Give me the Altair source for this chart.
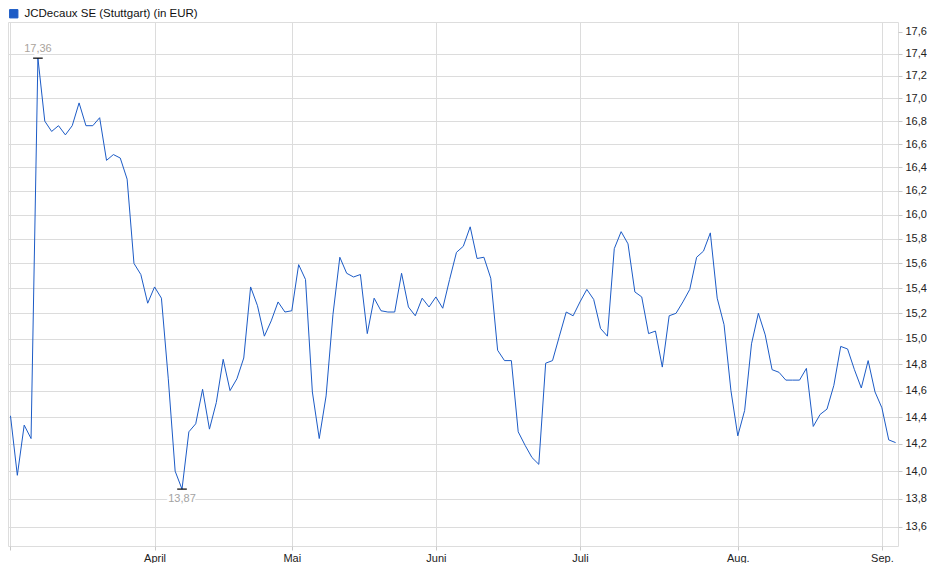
import altair as alt
import pandas as pd

# ---- data -------------------------------------------------------------
holidays = ["2025-04-18", "2025-04-21", "2025-05-01"]
dates = [d for d in pd.bdate_range("2025-03-03", "2025-09-03") if d.strftime("%Y-%m-%d") not in holidays]

closes = [
    14.41, 13.97, 14.34, 14.24, 17.36, 16.80, 16.71, 16.76, 16.68, 16.76,
    16.96, 16.76, 16.76, 16.83, 16.46, 16.51, 16.48, 16.30, 15.60, 15.51,
    15.28, 15.41, 15.32, 14.69, 14.00, 13.87, 14.29, 14.35, 14.61, 14.31,
    14.51, 14.84, 14.60, 14.69, 14.85, 15.41, 15.26, 15.02, 15.14, 15.29,
    15.21, 15.22, 15.59, 15.47, 14.59, 14.24, 14.56, 15.19, 15.65, 15.52,
    15.49, 15.51, 15.04, 15.32, 15.22, 15.21, 15.21, 15.52, 15.25, 15.18,
    15.32, 15.25, 15.33, 15.24, 15.47, 15.69, 15.74, 15.90, 15.64, 15.65,
    15.48, 14.91, 14.83, 14.83, 14.29, 14.19, 14.10, 14.05, 14.81, 14.83,
    15.02, 15.21, 15.18, 15.29, 15.39, 15.31, 15.08, 15.02, 15.72, 15.86,
    15.76, 15.37, 15.33, 15.04, 15.06, 14.78, 15.18, 15.20, 15.29, 15.39,
    15.65, 15.70, 15.85, 15.32, 15.11, 14.60, 14.26, 14.45, 14.96, 15.20,
    15.03, 14.76, 14.74, 14.68, 14.68, 14.68, 14.77, 14.33, 14.42, 14.46,
    14.64, 14.94, 14.92, 14.76, 14.62, 14.83, 14.59, 14.47, 14.23, 14.21,
]

series_name = "JCDecaux SE (Stuttgart) (in EUR)"
month_names = {3: "", 4: "April", 5: "Mai", 6: "Juni", 7: "Juli", 8: "Aug.", 9: "Sep."}
y_ticks = [round(13.6 + 0.2 * k, 1) for k in range(21)]

line_color = "#1c5bc6"
grid_color = "#dcdcdc"
font = "Liberation Sans"

# ---- frames -----------------------------------------------------------
n = len(closes)
df = pd.DataFrame({
    "i": list(range(n)),
    "date": [d.strftime("%Y-%m-%d") for d in dates[:n]],
    "close": closes,
    "series": series_name,
})

month_ticks = []
month_label_expr = []
prev = None
for idx, d in enumerate(dates[:n]):
    if d.month != prev:
        month_ticks.append(idx)
        month_label_expr.append(f"datum.value == {idx} ? '{month_names[d.month]}'")
        prev = d.month
label_expr = " : ".join(month_label_expr) + " : ''"

imax = max(range(n), key=lambda k: closes[k])
imin = min(range(n), key=lambda k: closes[k])
ann_max = pd.DataFrame({"i": [imax], "close": [closes[imax]],
                        "label": [f"{closes[imax]:.2f}".replace(".", ",")]})
ann_min = pd.DataFrame({"i": [imin], "close": [closes[imin]],
                        "label": [f"{closes[imin]:.2f}".replace(".", ",")]})
ann_all = pd.concat([ann_max, ann_min], ignore_index=True)

# ---- scales -----------------------------------------------------------
xscale = alt.Scale(domain=[-0.36, 129.35], nice=False, zero=False)
yscale = alt.Scale(type="log", domain=[13.465, 17.69], nice=False, zero=False)

xaxis = alt.Axis(
    values=month_ticks, labelExpr=label_expr, title=None, grid=True,
    gridColor=grid_color, domain=False, tickColor="#c8c8c8", tickSize=4,
    labelFont=font, labelFontSize=11, labelColor="#222222", labelPadding=2,
    labelFlush=False, labelAlign="center",
)
yaxis = alt.Axis(
    orient="right", values=y_ticks, title=None, grid=True,
    gridColor=grid_color,
    gridOpacity={"condition": {"test": "datum.value > 17.5", "value": 0}, "value": 1},
    domain=False, tickColor="#c8c8c8", tickSize=4,
    labelExpr="replace(format(datum.value, '.1f'), '.', ',')",
    labelFont=font, labelFontSize=11, labelColor="#222222", labelPadding=3,
)

base = alt.Chart(df)

line = base.mark_line(strokeWidth=1, interpolate="linear").encode(
    x=alt.X("i:Q", scale=xscale, axis=xaxis),
    y=alt.Y("close:Q", scale=yscale, axis=yaxis),
    color=alt.Color(
        "series:N",
        scale=alt.Scale(range=[line_color]),
        legend=alt.Legend(
            orient="none", legendX=0, legendY=-14, title=None, padding=0,
            symbolType="square", symbolSize=70, symbolFillColor=line_color,
            symbolStrokeColor="#0b2f78", symbolStrokeWidth=1, symbolOpacity=1,
            labelFont=font, labelFontSize=11.5, labelColor="#111111",
            labelOffset=5, labelLimit=0,
        ),
    ),
)

marks = alt.Chart(ann_all).transform_calculate(
    x1="datum.i - 0.7", x2="datum.i + 0.7"
).mark_rule(color="black", strokeWidth=1.2).encode(
    x=alt.X("x1:Q", scale=xscale),
    x2="x2:Q",
    y=alt.Y("close:Q", scale=yscale),
)

def ann_text(frame, dy, color):
    halo = alt.Chart(frame).mark_text(
        dy=dy, font=font, fontSize=11, stroke="white", strokeWidth=4, color="white"
    ).encode(x=alt.X("i:Q", scale=xscale), y=alt.Y("close:Q", scale=yscale), text="label:N")
    txt = alt.Chart(frame).mark_text(
        dy=dy, font=font, fontSize=11, color=color
    ).encode(x=alt.X("i:Q", scale=xscale), y=alt.Y("close:Q", scale=yscale), text="label:N")
    return halo + txt

chart = alt.layer(
    line, marks,
    ann_text(ann_max, -9, "#aaa39c"),
    ann_text(ann_min, 10, "#a3a3a3"),
).properties(
    width=890, height=524, padding=0,
).configure_view(
    stroke="#cfcfcf", strokeWidth=1,
).configure(
    background="white",
)

chart.save("out.html", embed_options={"renderer": "svg", "actions": False})
